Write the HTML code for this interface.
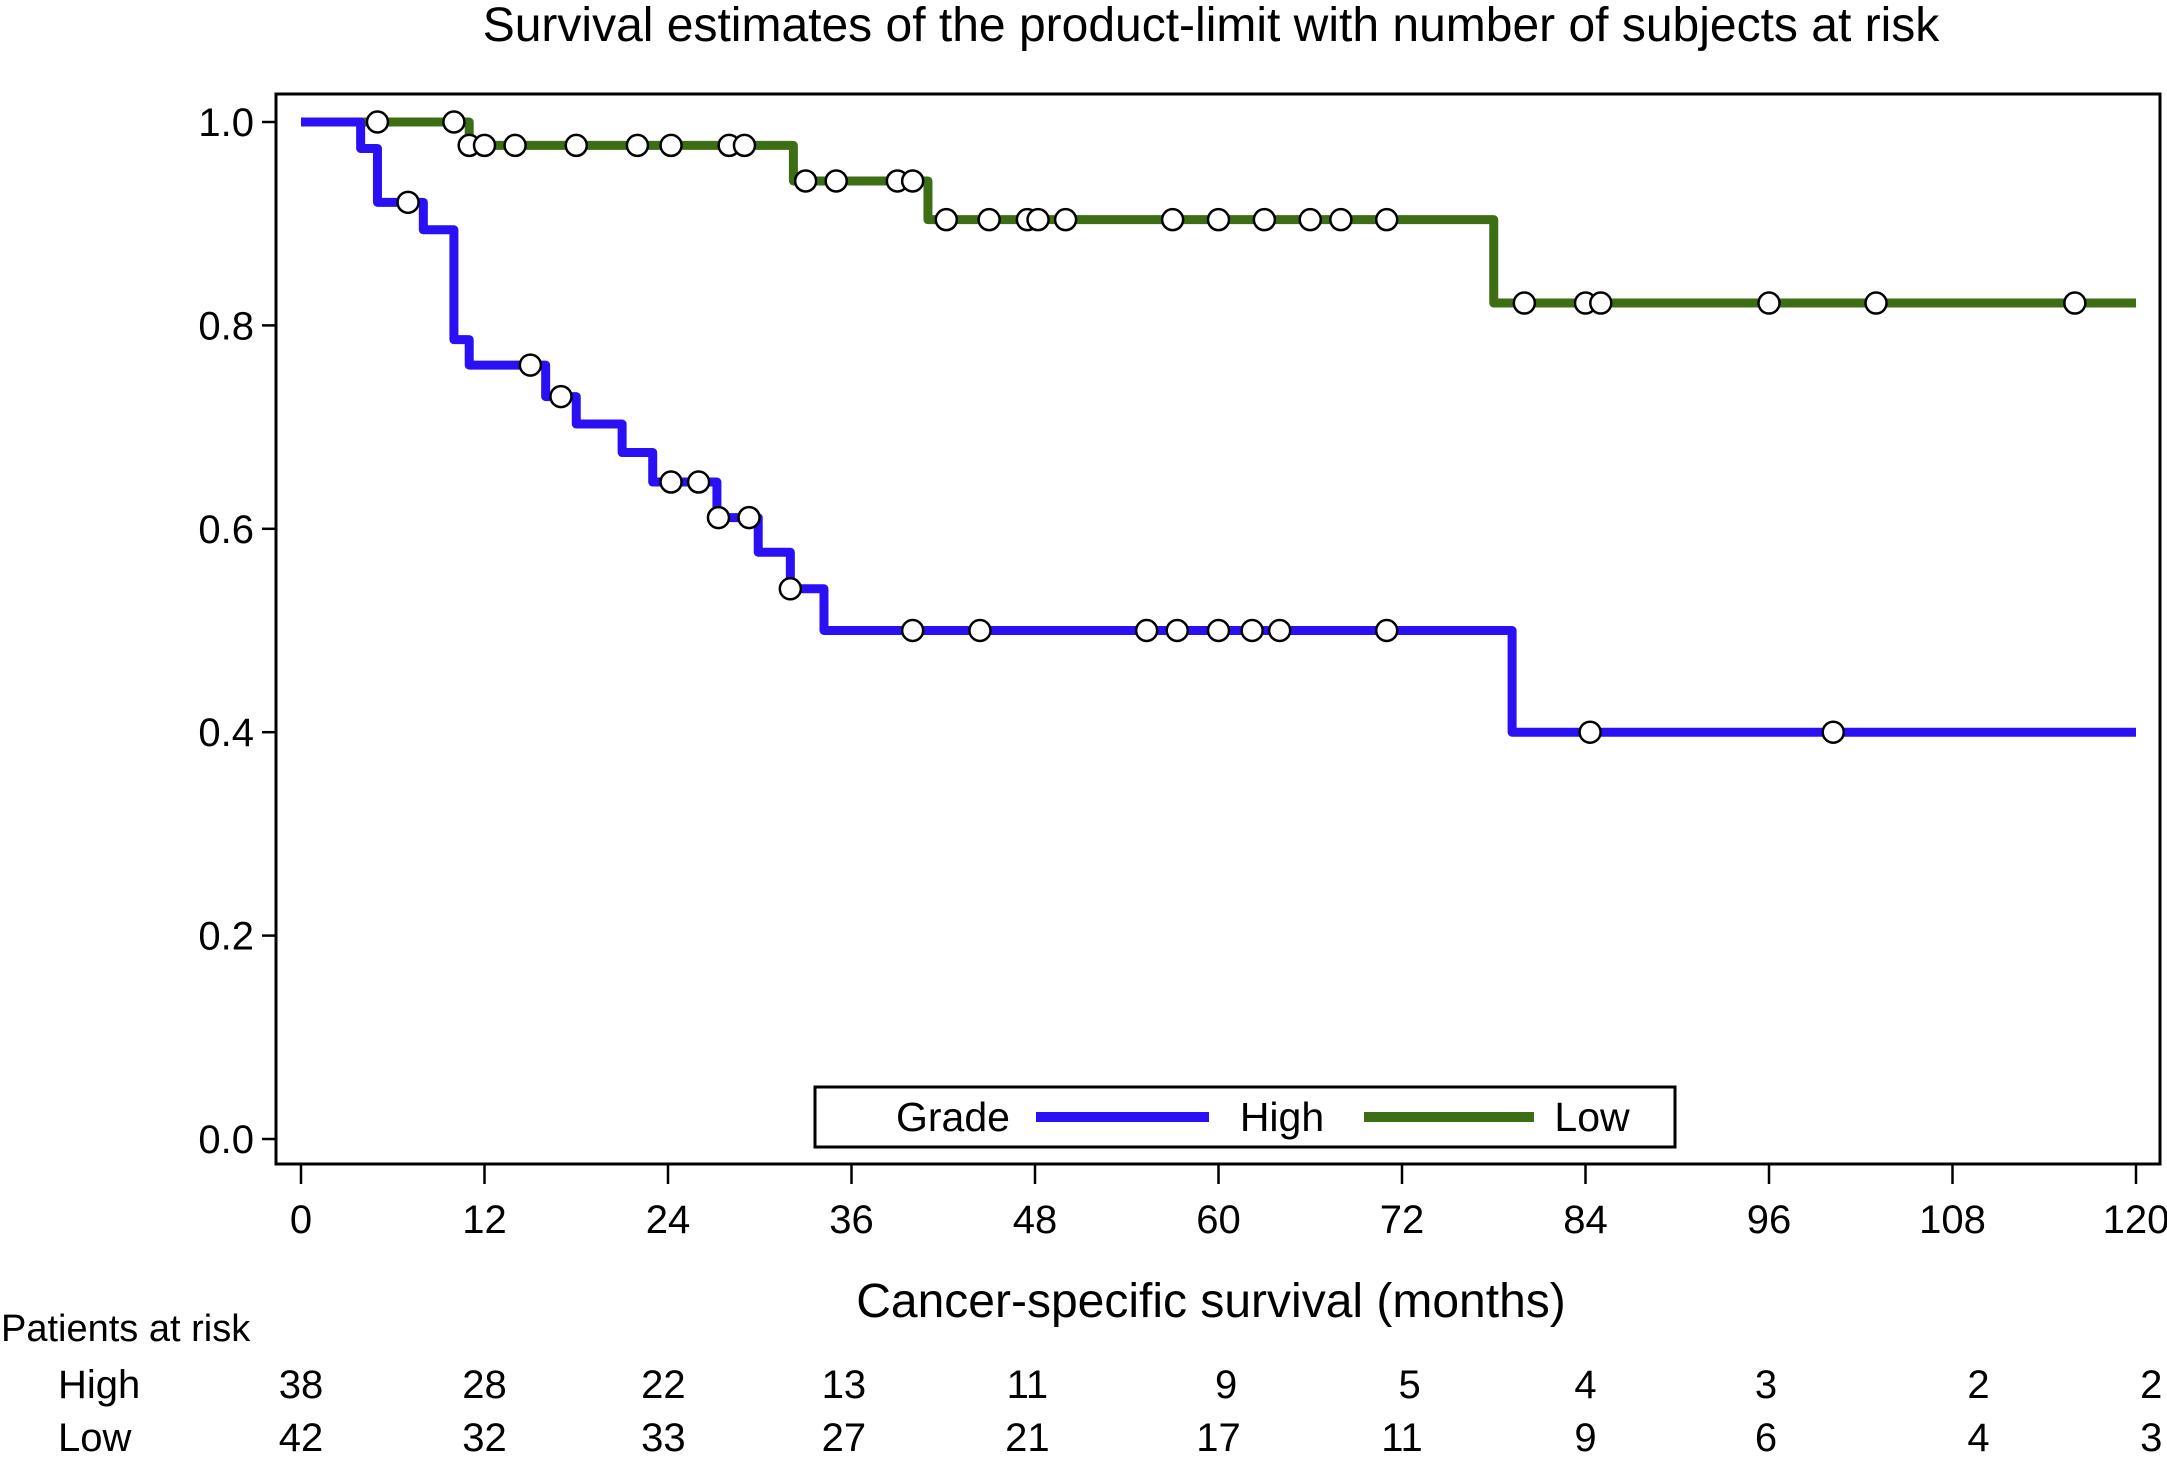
<!DOCTYPE html>
<html><head><meta charset="utf-8"><style>
html,body{margin:0;padding:0;background:#fff;}
svg{display:block;font-family:"Liberation Sans",Arial,sans-serif;}
</style></head><body>
<svg id="chart" width="2167" height="1459" viewBox="0 0 2167 1459" xmlns="http://www.w3.org/2000/svg">
<text x="1211" y="41" font-size="48" text-anchor="middle">Survival estimates of the product-limit with number of subjects at risk</text>
<rect x="276" y="94" width="1884" height="1070" fill="none" stroke="#000" stroke-width="3"/>
<g id="axes"></g>
<g id="series"></g>
<text x="1211" y="1317" font-size="48" text-anchor="middle">Cancer-specific survival (months)</text>
<text x="1" y="1341" font-size="38">Patients at risk</text>
<text x="58" y="1398" font-size="40">High</text>
<text x="58" y="1451" font-size="40">Low</text>
<g id="risk"></g>
<g>
<rect x="815" y="1087" width="860" height="60" fill="#fff" stroke="#000" stroke-width="3"/>
<text x="953" y="1131" font-size="41" text-anchor="middle">Grade</text>
<line x1="1036" y1="1117" x2="1209" y2="1117" stroke="#2a10f5" stroke-width="10"/>
<text x="1282" y="1131" font-size="41" text-anchor="middle">High</text>
<line x1="1364" y1="1117" x2="1534" y2="1117" stroke="#3d6e14" stroke-width="10"/>
<text x="1592" y="1131" font-size="41" text-anchor="middle">Low</text>
</g>
</svg>
<script>
const xTicks = [0,12,24,36,48,60,72,84,96,108,120];
const yTicks = [0.0,0.2,0.4,0.6,0.8,1.0];
const yTickLabels = ["0.0","0.2","0.4","0.6","0.8","1.0"];
// step series: event times and survival after each
const highTimes = [0,3.9,5,8,10,11,16,18,21,23,27.2,29.9,32,34.2,79.2];
const highSurv = [1.0,0.974,0.921,0.894,0.786,0.761,0.73,0.703,0.675,0.646,0.611,0.577,0.541,0.5,0.4];
const highCensor = [7,15,17,24.2,26,27.3,29.3,32,40,44.4,55.3,57.3,60,62.2,64,71,84.3,100.2];
const lowTimes = [0,11,32.2,41,78];
const lowSurv = [1.0,0.977,0.942,0.904,0.822];
const lowCensor = [5,10,11,12,14,18,22,24.2,28,29,33,35,39,40,42.2,45,47.5,48.2,50,57,60,63,66,68,71,80,84,85,96,103,116];
const riskHigh = ["38","28","22","13","11","9","5","4","3","2","2"];
const riskLow = ["42","32","33","27","21","17","11","9","6","4","3"];
const riskXHigh = [0,12,23.7,35.5,47.5,60.5,72.5,84,95.8,109.7,121];
const riskXLow = [0,12,23.7,35.5,47.5,60,72,84,95.8,109.7,121];

const X = t => 301 + t*(2136-301)/120;
const Y = s => 1139 - s*(1139-122);
const NS = "http://www.w3.org/2000/svg";
function mk(tag, attrs, parent){const e=document.createElementNS(NS,tag);for(const k in attrs)e.setAttribute(k,attrs[k]);parent.appendChild(e);return e;}
const axes=document.getElementById('axes'), series=document.getElementById('series'), risk=document.getElementById('risk');

xTicks.forEach(t=>{
  const l=mk('line',{x1:X(t),y1:1165,x2:X(t),y2:1184,stroke:'#000','stroke-width':2.5},axes);
  
  
  const tx=mk('text',{x:X(t),y:1233,'font-size':40,'text-anchor':'middle'},axes);
  tx.textContent=t;
  
  
});
yTicks.forEach((v,i)=>{
  const l=mk('line',{x1:262,y1:Y(v),x2:276,y2:Y(v),stroke:'#000','stroke-width':2.5},axes);
  
  
  const tx=mk('text',{x:254,y:Y(v)+14,'font-size':40,'text-anchor':'end'},axes);
  tx.textContent=yTickLabels[i];
  
  
});

function survAt(times,surv,t){let s=surv[0];for(let i=0;i<times.length;i++){if(times[i]<=t)s=surv[i];}return s;}
function drawSeries(times,surv,censor,color,name){
  let d='M'+X(times[0])+' '+Y(surv[0]);
  for(let i=1;i<times.length;i++){d+=' H'+X(times[i])+' V'+Y(surv[i]);}
  d+=' H'+X(120);
  const p=mk('path',{d:d,fill:'none',stroke:color,'stroke-width':9,'stroke-linejoin':'round'},series);
  
  
  censor.forEach(t=>{
    const c=mk('circle',{cx:X(t),cy:Y(survAt(times,surv,t)),r:10.5,fill:'#fff',stroke:'#000','stroke-width':2.5},series);
    
    
  });
}
drawSeries(lowTimes,lowSurv,lowCensor,'#3d6e14','low');
drawSeries(highTimes,highSurv,highCensor,'#2a10f5','high');

riskHigh.forEach((v,i)=>{
  const tx=mk('text',{x:X(riskXHigh[i]),y:1398,'font-size':40,'text-anchor':'middle'},risk);
  tx.textContent=v;
  
  
});
riskLow.forEach((v,i)=>{
  const tx=mk('text',{x:X(riskXLow[i]),y:1451,'font-size':40,'text-anchor':'middle'},risk);
  tx.textContent=v;
  
  
});
</script>
</body></html>
